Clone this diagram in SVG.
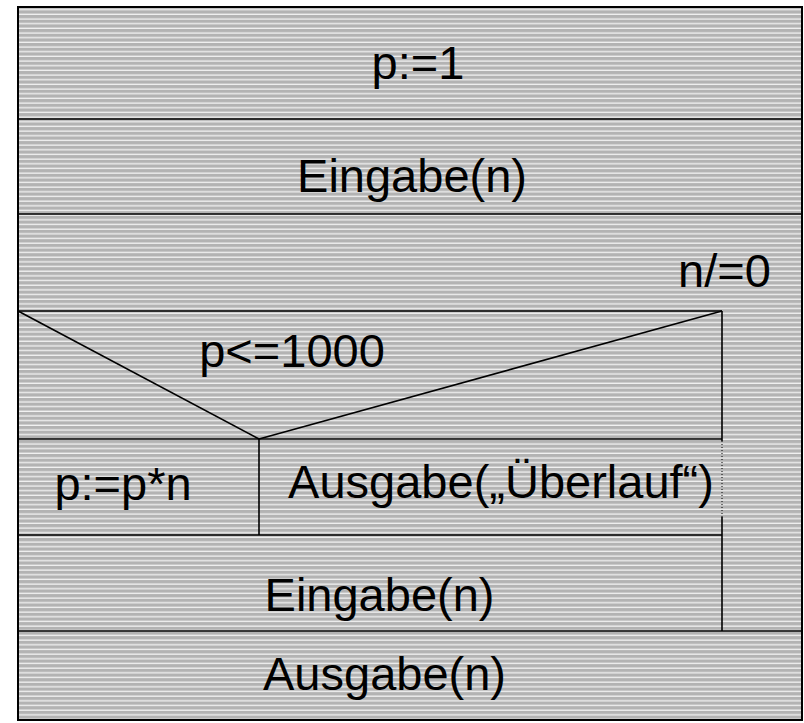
<svg xmlns="http://www.w3.org/2000/svg" width="804" height="723" viewBox="0 0 804 723">
<defs>
<pattern id="hatch" patternUnits="userSpaceOnUse" x="0" y="1" width="10" height="4.67">
<rect width="10" height="4.67" fill="#b3b3b3"/>
<rect y="3.4" width="10" height="1.1" fill="#ffffff"/>
</pattern>
</defs>
<style>
.ln{stroke:#000;stroke-width:1.6;fill:none}
.t{font-family:"Liberation Sans",Arial,sans-serif;font-size:47px;fill:#000;text-anchor:middle}
</style>
<rect x="0" y="0" width="804" height="723" fill="#fff"/>
<rect x="18" y="7" width="784" height="713" fill="url(#hatch)"/>
<g id="connectors">
<line class="ln" x1="18" y1="119" x2="802" y2="119"/>
<line class="ln" x1="18" y1="214" x2="802" y2="214"/>
<line class="ln" x1="18" y1="311" x2="722" y2="311"/>
<line class="ln" x1="18" y1="311" x2="259" y2="439"/>
<line class="ln" x1="259" y1="439" x2="722" y2="311"/>
<line class="ln" x1="18" y1="439" x2="722" y2="439"/>
<line class="ln" x1="259" y1="439" x2="259" y2="535"/>
<line class="ln" x1="18" y1="535" x2="722" y2="535"/>
<line class="ln" x1="722" y1="311" x2="722" y2="441"/>
<line x1="722" y1="441" x2="722" y2="517" stroke="#000" stroke-width="1" stroke-dasharray="1,2"/>
<line class="ln" x1="722" y1="517" x2="722" y2="631"/>
<line class="ln" x1="18" y1="631" x2="802" y2="631"/>
</g>
<rect x="18" y="7" width="784" height="713" fill="none" stroke="#000" stroke-width="2"/>
<g id="n1"><text class="t" x="418" y="79">p:=1</text></g>
<g id="n2"><text class="t" x="412" y="192">Eingabe(n)</text></g>
<g id="loop"><text class="t" x="724.5" y="287">n/=0</text></g>
<g id="cond"><text class="t" x="292" y="367">p&lt;=1000</text></g>
<g id="yes"><text class="t" x="123" y="500">p:=p*n</text></g>
<g id="no"><text class="t" x="501" y="498">Ausgabe(„Überlauf“)</text></g>
<g id="n3"><text class="t" x="379.5" y="611">Eingabe(n)</text></g>
<g id="n4"><text class="t" x="384.5" y="690">Ausgabe(n)</text></g>
</svg>
